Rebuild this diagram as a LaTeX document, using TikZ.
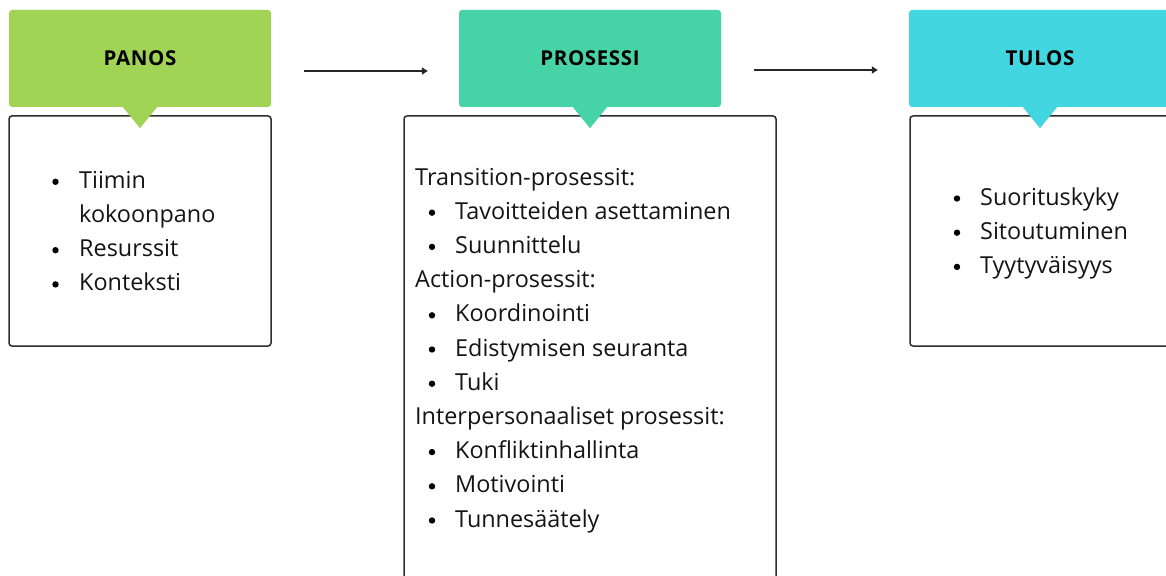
\documentclass[tikz,border=0pt]{standalone}
\usepackage{fontspec}
\setmainfont{Open Sans}
\usetikzlibrary{arrows.meta}

\definecolor{panosgreen}{RGB}{161,212,85}
\definecolor{prosessigreen}{RGB}{70,211,165}
\definecolor{tulosblue}{RGB}{65,214,224}
\definecolor{framegray}{RGB}{45,45,45}

\tikzset{
  hdr/.style={rounded corners=3pt, minimum width=262pt, minimum height=97pt,
    inner sep=0pt, text=black,
    font=\fontsize{20.5}{24}\selectfont\bfseries\addfontfeature{LetterSpace=3}},
  panel/.style={draw=framegray, line width=1.5pt, rounded corners=3pt, fill=white},
  txt/.style={anchor=base west, inner sep=0pt, font=\fontsize{23.4}{28}\selectfont, text=black!92},
  dot/.style={fill=black},
  flow/.style={draw=black!85, line width=1.6pt, -{Triangle[length=6pt,width=7pt]}},
}

\begin{document}
\begin{tikzpicture}[x=1pt,y=-1pt]
\useasboundingbox (0,0) rectangle (1166,575);

% content panels
\draw[panel] (9,116) rectangle (271,346);
\draw[panel] (404,116) rectangle (776,595);
\draw[panel] (910,116) rectangle (1180,346);

% headers
\node[hdr, fill=panosgreen]    (panos)    at (140,58.5)  {PANOS};
\node[hdr, fill=prosessigreen] (prosessi) at (590,58.5)  {PROSESSI};
\node[hdr, fill=tulosblue]     (tulos)    at (1040,58.5) {TULOS};

% pointers under the headers
\foreach \h/\c in {panos/panosgreen, prosessi/prosessigreen, tulos/tulosblue}{
  \fill[\c] ([xshift=-17pt]\h.south) -- ([yshift=-21pt]\h.south)
            -- ([xshift=17pt]\h.south) -- cycle;
}

% flow arrows
\draw[flow] ([xshift=33pt,yshift=-12.5pt]panos.east) -- ([xshift=-31pt,yshift=-12.5pt]prosessi.west);
\draw[flow] ([xshift=33pt,yshift=-11.5pt]prosessi.east) -- ([xshift=-31pt,yshift=-11.5pt]tulos.west);

% inputs
\foreach \y in {188.3, 256.7, 290.9}{
  \fill[dot] (55.5,\y-6.5) circle (3.2pt);
}
\node[txt] (in1) at (79,188.3) {Tiimin};
\node[txt] (in1b) at (79,222.5) {kokoonpano};
\node[txt] (in2) at (79,256.7) {Resurssit};
\node[txt] (in3) at (79,290.9) {Konteksti};

% process
\node[txt] (ph1) at (415,185) {Transition-prosessit:};
\node[txt] (ph2) at (415,287.6) {Action-prosessit:};
\node[txt] (ph3) at (415,424.4) {Interpersonaaliset prosessit:};
\foreach \t/\y in {Tavoitteiden asettaminen/219.2, Suunnittelu/253.4,
                   Koordinointi/321.8, Edistymisen seuranta/356, Tuki/390.2,
                   Konfliktinhallinta/458.6, Motivointi/492.8, Tunnesäätely/527}{
  \fill[dot] (432,\y-6.5) circle (3.2pt);
  \node[txt] at (455,\y) {\t};
}

% outcomes
\foreach \t/\y in {Suorituskyky/205, Sitoutuminen/239.2, Tyytyväisyys/273.4}{
  \fill[dot] (957,\y-6.5) circle (3.2pt);
  \node[txt] at (980,\y) {\t};
}
\end{tikzpicture}
\end{document}
